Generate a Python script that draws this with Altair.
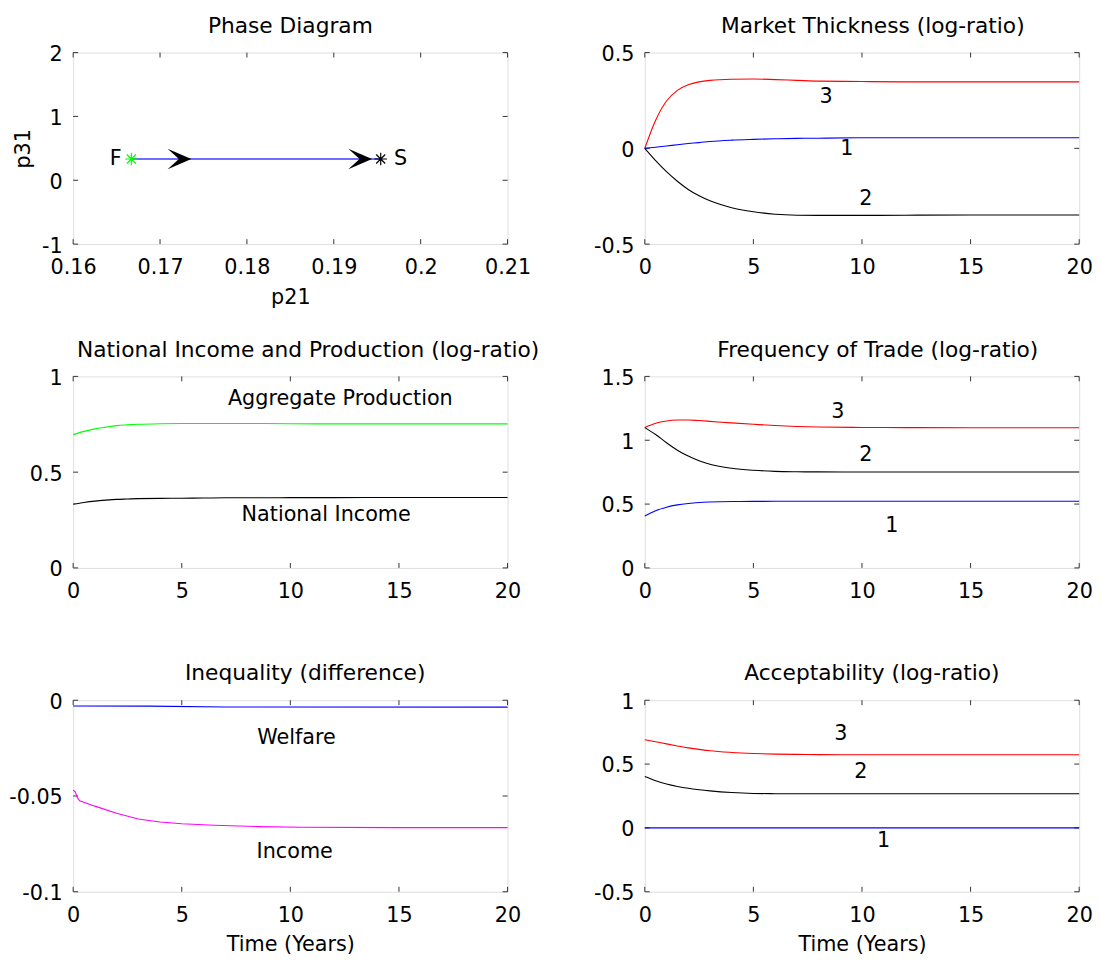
import altair as alt
import pandas as pd

FONT = "DejaVu Sans"
FS = 21
TFS = 22
W, H = 440, 194
TICK_LEN = 5
TICK_COLOR = "#333333"

# ---------------- data ----------------
# Phase diagram
phase_p21 = [0.1667, 0.1954]
phase_p31 = [0.3333, 0.3333]
arrow_tip_p21 = [0.1736, 0.1944]
phase_labels = ["F", "S"]
phase_label_p21 = [0.1649, 0.1977]
phase_xticks = [0.16, 0.17, 0.18, 0.19, 0.2, 0.21]
phase_yticks = [-1, 0, 1, 2]

# common time grid (years)
T = [0, 0.5, 1, 1.5, 2, 2.5, 3, 4, 5, 6, 7, 8, 10, 12, 15, 20]
time_ticks = [0, 5, 10, 15, 20]

# Market thickness (log-ratio)
mt_1 = [0, 0.006, 0.012, 0.019, 0.025, 0.030, 0.036, 0.043, 0.047, 0.050, 0.052, 0.053, 0.055, 0.055, 0.055, 0.055]
mt_2 = [0, -0.064, -0.122, -0.172, -0.215, -0.248, -0.274, -0.310, -0.331, -0.344, -0.349, -0.350, -0.350, -0.349, -0.348, -0.348]
mt_3 = [0, 0.147, 0.247, 0.303, 0.332, 0.347, 0.355, 0.361, 0.362, 0.359, 0.355, 0.351, 0.349, 0.347, 0.347, 0.347]
mt_yticks = [-0.5, 0, 0.5]
mt_labels = ["3", "1", "2"]
mt_label_t = [8.35, 9.3, 10.18]
mt_label_y = [0.266, -0.005, -0.264]

# National income and production (log-ratio)
ni_prod = [0.696, 0.713, 0.726, 0.735, 0.743, 0.747, 0.750, 0.753, 0.754, 0.754, 0.754, 0.754, 0.753, 0.752, 0.752, 0.752]
ni_income = [0.333, 0.342, 0.349, 0.354, 0.358, 0.360, 0.362, 0.363, 0.364, 0.365, 0.366, 0.366, 0.367, 0.367, 0.368, 0.368]
ni_yticks = [0, 0.5, 1]
ni_labels = ["Aggregate Production", "National Income"]
ni_label_t = [12.3, 11.65]
ni_label_y = [0.883, 0.278]

# Frequency of trade (log-ratio)
ft_1 = [0.406, 0.448, 0.476, 0.494, 0.505, 0.512, 0.516, 0.520, 0.521, 0.522, 0.522, 0.522, 0.522, 0.522, 0.522, 0.522]
ft_2 = [1.099, 1.045, 0.980, 0.922, 0.876, 0.839, 0.812, 0.781, 0.765, 0.756, 0.753, 0.752, 0.751, 0.751, 0.751, 0.751]
ft_3 = [1.099, 1.133, 1.151, 1.158, 1.159, 1.154, 1.148, 1.136, 1.125, 1.115, 1.108, 1.104, 1.100, 1.099, 1.098, 1.098]
ft_yticks = [0, 0.5, 1, 1.5]
ft_labels = ["3", "2", "1"]
ft_label_t = [8.89, 10.18, 11.37]
ft_label_y = [1.221, 0.887, 0.327]

# Inequality (difference)
ineq_t = [0, 0.1, 0.2, 0.3, 1, 2, 3, 4, 5, 6.5, 8.5, 10.5, 15, 20]
ineq_income = [-0.0469, -0.0480, -0.0510, -0.0525, -0.0553, -0.0590, -0.0620, -0.0636, -0.0645, -0.0653, -0.0660, -0.0663, -0.0665, -0.0665]
welf_t = [0, 3.5, 7, 20]
ineq_welfare = [-0.0030, -0.0031, -0.0035, -0.0036]
ineq_yticks = [-0.1, -0.05, 0]
ineq_labels = ["Welfare", "Income"]
ineq_label_t = [10.28, 10.2]
ineq_label_y = [-0.0197, -0.0794]

# Acceptability (log-ratio)
ac_1 = [0] * len(T)
ac_2 = [0.403, 0.370, 0.344, 0.325, 0.310, 0.299, 0.290, 0.277, 0.270, 0.268, 0.267, 0.267, 0.267, 0.267, 0.267, 0.267]
ac_3 = [0.691, 0.675, 0.658, 0.642, 0.627, 0.615, 0.604, 0.591, 0.583, 0.578, 0.576, 0.574, 0.573, 0.573, 0.573, 0.573]
ac_yticks = [-0.5, 0, 0.5, 1]
ac_labels = ["3", "2", "1"]
ac_label_t = [9.03, 9.95, 11.0]
ac_label_y = [0.735, 0.434, -0.101]

RED, BLUE, BLACK, GREEN, MAGENTA = "#ff0000", "#0000ff", "#000000", "#00ff00", "#ff00ff"

ARROW = "M0,0 L-2,-0.86 L-1.05,0 L-2,0.86 Z"
ASTERISK = "M-1,0L1,0M0,-1L0,1M-0.72,-0.72L0.72,0.72M-0.72,0.72L0.72,-0.72"


# ---------------- helpers ----------------
def make_x(domain, ticks, title=None):
    kw = dict(values=ticks, labelExpr="'' + datum.value", ticks=False, domain=False,
              grid=False, labelFont=FONT, labelFontSize=FS, labelColor="black",
              labelPadding=13, labelFlush=False, labelOverlap=False)
    if title is not None:
        kw.update(titleFont=FONT, titleFontSize=FS, titleFontWeight="normal",
                  titleColor="black", titlePadding=9)
    return alt.X("x:Q", scale=alt.Scale(domain=domain, nice=False, zero=False),
                 axis=alt.Axis(**kw), title=title)


def make_y(domain, ticks, title=None):
    kw = dict(values=ticks, labelExpr="'' + datum.value", ticks=False, domain=False,
              grid=False, labelFont=FONT, labelFontSize=FS, labelColor="black",
              labelPadding=11, labelFlush=False, labelOverlap=False, labelOffset=2)
    if title is not None:
        kw.update(titleFont=FONT, titleFontSize=FS, titleFontWeight="normal",
                  titleColor="black", titlePadding=8)
    return alt.Y("y:Q", scale=alt.Scale(domain=domain, nice=False, zero=False),
                 axis=alt.Axis(**kw), title=title)


def inner_ticks(xd, yd, xticks, yticks):
    tx = pd.DataFrame({"x": xticks})
    ty = pd.DataFrame({"y": yticks})
    m = dict(color=TICK_COLOR, strokeWidth=1)
    return [
        alt.Chart(tx).mark_rule(**m).encode(x=xd, y=alt.value(0), y2=alt.value(TICK_LEN)),
        alt.Chart(tx).mark_rule(**m).encode(x=xd, y=alt.value(H), y2=alt.value(H - TICK_LEN)),
        alt.Chart(ty).mark_rule(**m).encode(y=yd, x=alt.value(0), x2=alt.value(TICK_LEN)),
        alt.Chart(ty).mark_rule(**m).encode(y=yd, x=alt.value(W), x2=alt.value(W - TICK_LEN)),
    ]


def line(ts, ys, color, xd, yd, interp="monotone"):
    df = pd.DataFrame({"x": ts, "y": ys})
    return alt.Chart(df).mark_line(color=color, strokeWidth=1.1, interpolate=interp).encode(x=xd, y=yd)


def texts(ts, ys, labels, xd, yd):
    df = pd.DataFrame({"x": ts, "y": ys, "label": labels})
    return alt.Chart(df).mark_text(font=FONT, fontSize=FS, color="black",
                                   align="center", baseline="middle").encode(
        x=xd, y=yd, text="label:N")


def title(text, dx):
    return alt.TitleParams(text=text, anchor="middle", frame="group", font=FONT,
                           fontSize=TFS, fontWeight="normal", color="black",
                           offset=-11, baseline="alphabetic", dx=dx)


def panel(layers, ttl, dx=0):
    return alt.layer(*layers).properties(width=W, height=H, title=title(ttl, dx))


# ---------------- panels ----------------
# 1. Phase diagram
xd = make_x([0.16, 0.21], phase_xticks, "p21")
yd = make_y([-1, 2], phase_yticks, "p31")
ph_df = pd.DataFrame({"x": phase_p21, "y": phase_p31})
arrow_df = pd.DataFrame({"x": arrow_tip_p21, "y": [phase_p31[0]] * len(arrow_tip_p21)})
f_df = pd.DataFrame({"x": phase_p21[:1], "y": phase_p31[:1]})
s_df = pd.DataFrame({"x": phase_p21[1:], "y": phase_p31[1:]})
p1 = panel(
    inner_ticks(xd, yd, phase_xticks, phase_yticks) + [
        alt.Chart(ph_df).mark_line(color="#3c3cff", strokeWidth=1.6).encode(x=xd, y=yd),
        alt.Chart(arrow_df).mark_point(shape=ARROW, filled=True, fill="black",
                                       strokeWidth=0, size=576, opacity=1).encode(x=xd, y=yd),
        alt.Chart(f_df).mark_point(shape=ASTERISK, filled=False, color=GREEN,
                                   strokeWidth=1.2, size=160, opacity=1).encode(x=xd, y=yd),
        alt.Chart(s_df).mark_point(shape=ASTERISK, filled=False, color=BLACK,
                                   strokeWidth=1.2, size=160, opacity=1).encode(x=xd, y=yd),
        texts(phase_label_p21, phase_p31, phase_labels, xd, yd),
    ],
    "Phase Diagram", 0,
)

# 2. Market thickness
xd = make_x([0, 20], time_ticks)
yd = make_y([-0.5, 0.5], mt_yticks)
p2 = panel(
    inner_ticks(xd, yd, time_ticks, mt_yticks) + [
        line(T, mt_3, RED, xd, yd),
        line(T, mt_1, BLUE, xd, yd),
        line(T, mt_2, BLACK, xd, yd),
        texts(mt_label_t, mt_label_y, mt_labels, xd, yd),
    ],
    "Market Thickness (log-ratio)", 11,
)

# 3. National income and production
xd = make_x([0, 20], time_ticks)
yd = make_y([0, 1], ni_yticks)
p3 = panel(
    inner_ticks(xd, yd, time_ticks, ni_yticks) + [
        line(T, ni_prod, GREEN, xd, yd),
        line(T, ni_income, BLACK, xd, yd),
        texts(ni_label_t, ni_label_y, ni_labels, xd, yd),
    ],
    "National Income and Production (log-ratio)", 18,
)

# 4. Frequency of trade
xd = make_x([0, 20], time_ticks)
yd = make_y([0, 1.5], ft_yticks)
p4 = panel(
    inner_ticks(xd, yd, time_ticks, ft_yticks) + [
        line(T, ft_3, RED, xd, yd),
        line(T, ft_2, BLACK, xd, yd),
        line(T, ft_1, BLUE, xd, yd),
        texts(ft_label_t, ft_label_y, ft_labels, xd, yd),
    ],
    "Frequency of Trade (log-ratio)", 16,
)

# 5. Inequality
xd = make_x([0, 20], time_ticks, "Time (Years)")
yd = make_y([-0.1, 0], ineq_yticks)
p5 = panel(
    inner_ticks(xd, yd, time_ticks, ineq_yticks) + [
        line(welf_t, ineq_welfare, BLUE, xd, yd, "linear"),
        line(ineq_t, ineq_income, MAGENTA, xd, yd, "linear"),
        texts(ineq_label_t, ineq_label_y, ineq_labels, xd, yd),
    ],
    "Inequality (difference)", 15,
)

# 6. Acceptability
xd = make_x([0, 20], time_ticks, "Time (Years)")
yd = make_y([-0.5, 1], ac_yticks)
p6 = panel(
    inner_ticks(xd, yd, time_ticks, ac_yticks) + [
        line(T, ac_3, RED, xd, yd),
        line(T, ac_2, BLACK, xd, yd),
        line(T, ac_1, BLUE, xd, yd),
        texts(ac_label_t, ac_label_y, ac_labels, xd, yd),
    ],
    "Acceptability (log-ratio)", 10,
)

chart = alt.concat(
    p1, p2, p3, p4, p5, p6,
    columns=2,
    spacing=alt.RowColnumber(row=134, column=139),
    bounds="flush",
).properties(
    padding={"left": 0, "top": 0, "right": 0, "bottom": 0},
).configure_view(
    stroke="black", strokeWidth=1,
).configure(
    background="white",
)

chart.save("out.html", embed_options={"renderer": "svg", "actions": False})
